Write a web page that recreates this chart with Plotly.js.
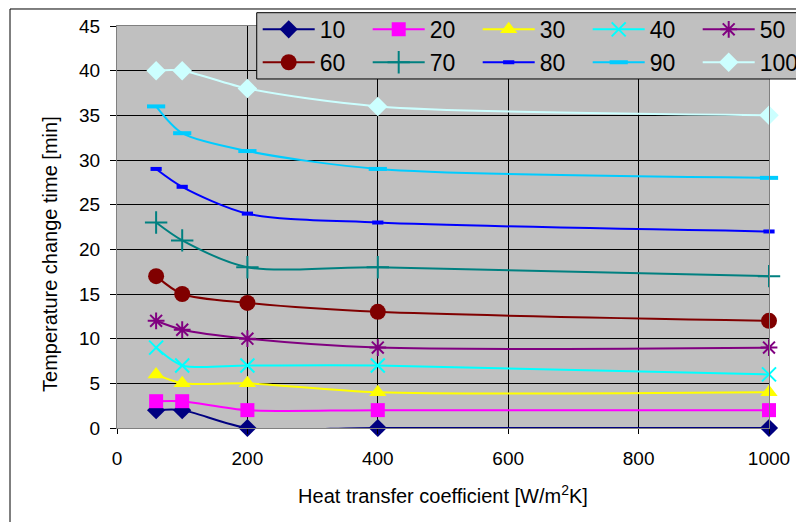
<!DOCTYPE html>
<html><head><meta charset="utf-8">
<script src="https://cdn.plot.ly/plotly-3.0.1.min.js"></script>
<style>html,body{margin:0;padding:0;background:#fff}#chart{width:796px;height:522px}</style>
</head><body><div id="chart"></div>
<script>
// ---- data ----
const heatCoeff = [60, 100, 200, 400, 1000];
const seriesNames = ['10', '20', '30', '40', '50', '60', '70', '80', '90', '100'];
const s10  = [2, 2, 0, 0, 0];
const s20  = [3, 3, 2, 2, 2];
const s30  = [6, 5, 5, 4, 4];
const s40  = [9, 7, 7, 7, 6];
const s50  = [12, 11, 10, 9, 9];
const s60  = [17, 15, 14, 13, 12];
const s70  = [23, 21, 18, 18, 17];
const s80  = [29, 27, 24, 23, 22];
const s90  = [36, 33, 31, 29, 28];
const s100 = [40, 40, 38, 36, 35];
const xTickVals = [0, 200, 400, 600, 800, 1000];
const yTickVals = [0, 5, 10, 15, 20, 25, 30, 35, 40, 45];

// ---- styles ----
const seriesValues = [s10, s20, s30, s40, s50, s60, s70, s80, s90, s100];
const styles = [
  {color: '#000080', symbol: 'diamond', size: 14},
  {color: '#FF00FF', symbol: 'square', size: 14},
  {color: '#FFFF00', symbol: 'triangle-up', size: 15},
  {color: '#00FFFF', symbol: 'x-thin-open', size: 14, lw: 2},
  {color: '#800080', symbol: 'asterisk-open', size: 14, lw: 2},
  {color: '#800000', symbol: 'circle', size: 16},
  {color: '#008080', symbol: 'cross-thin-open', size: 16, lw: 2},
  {color: '#0000FF', symbol: 'line-ew-open', size: 8, lw: 4},
  {color: '#00CCFF', symbol: 'line-ew-open', size: 13, lw: 4},
  {color: '#CCFFFF', symbol: 'diamond', size: 15}
];

const FONT = 'Liberation Sans, Arial, sans-serif';

const traces = seriesNames.map((name, i) => {
  const st = styles[i];
  return {
    type: 'scatter', mode: 'lines+markers', name: name,
    x: heatCoeff, y: seriesValues[i], cliponaxis: false,
    line: {color: st.color, width: 2, shape: 'spline', smoothing: 0.8},
    marker: {
      symbol: st.symbol, size: st.size, color: st.color,
      line: {color: st.color, width: st.lw || 0}
    }
  };
});

const layout = {
  width: 796, height: 522,
  margin: {l: 117, r: 27, t: 26, b: 94, autoexpand: false},
  paper_bgcolor: '#FFFFFF',
  plot_bgcolor: '#C0C0C0',
  font: {family: FONT, color: '#000000', size: 19},
  showlegend: true,
  legend: {
    orientation: 'h', x: 0.2158, y: 1.045, xanchor: 'left', yanchor: 'top',
    bgcolor: 'rgba(0,0,0,0)', borderwidth: 0,
    font: {family: FONT, size: 23, color: '#000000'},
    entrywidth: 43, entrywidthmode: 'pixels', itemwidth: 52,
    traceorder: 'normal'
  },
  xaxis: {
    range: [0, 1000], tickvals: xTickVals, ticktext: xTickVals.map(String),
    showgrid: true, gridcolor: '#000000', gridwidth: 1,
    showline: true, linecolor: '#808080', linewidth: 1, mirror: true,
    ticks: 'outside', ticklen: 5, tickcolor: '#000000',
    zeroline: false, ticklabelstandoff: 8,
    tickfont: {family: FONT, size: 19},
    title: {text: 'Heat transfer coefficient [W/m<sup>2</sup>K]', font: {family: FONT, size: 20}, standoff: 21}
  },
  yaxis: {
    range: [0, 45], tickvals: yTickVals, ticktext: yTickVals.map(String),
    showgrid: true, gridcolor: '#000000', gridwidth: 1,
    showline: true, linecolor: '#808080', linewidth: 1, mirror: true,
    ticks: 'outside', ticklen: 6, tickcolor: '#000000',
    zeroline: false, ticklabelstandoff: 6,
    tickfont: {family: FONT, size: 19}
  },
  annotations: [{
    text: 'Temperature change time [min]', textangle: -90,
    xref: 'paper', yref: 'paper', x: -0.1028, y: 0.4328,
    xanchor: 'center', yanchor: 'middle', showarrow: false,
    font: {family: FONT, size: 20, color: '#000000'}
  }],
  shapes: [
    {
      type: 'rect', xref: 'paper', yref: 'paper',
      x0: -0.1641, x1: 1.2, y0: -0.4, y1: 1.0423,
      line: {color: '#000000', width: 1}, fillcolor: 'rgba(0,0,0,0)', layer: 'below'
    },
    {
      type: 'rect', xref: 'paper', yref: 'paper',
      x0: 0.2143, x1: 1.1, y0: 0.8682, y1: 1.0331,
      line: {color: '#000000', width: 1}, fillcolor: '#C0C0C0', layer: 'above'
    }
  ]
};

Plotly.newPlot('chart', traces, layout, {staticPlot: true, displayModeBar: false});
</script>
</body></html>
